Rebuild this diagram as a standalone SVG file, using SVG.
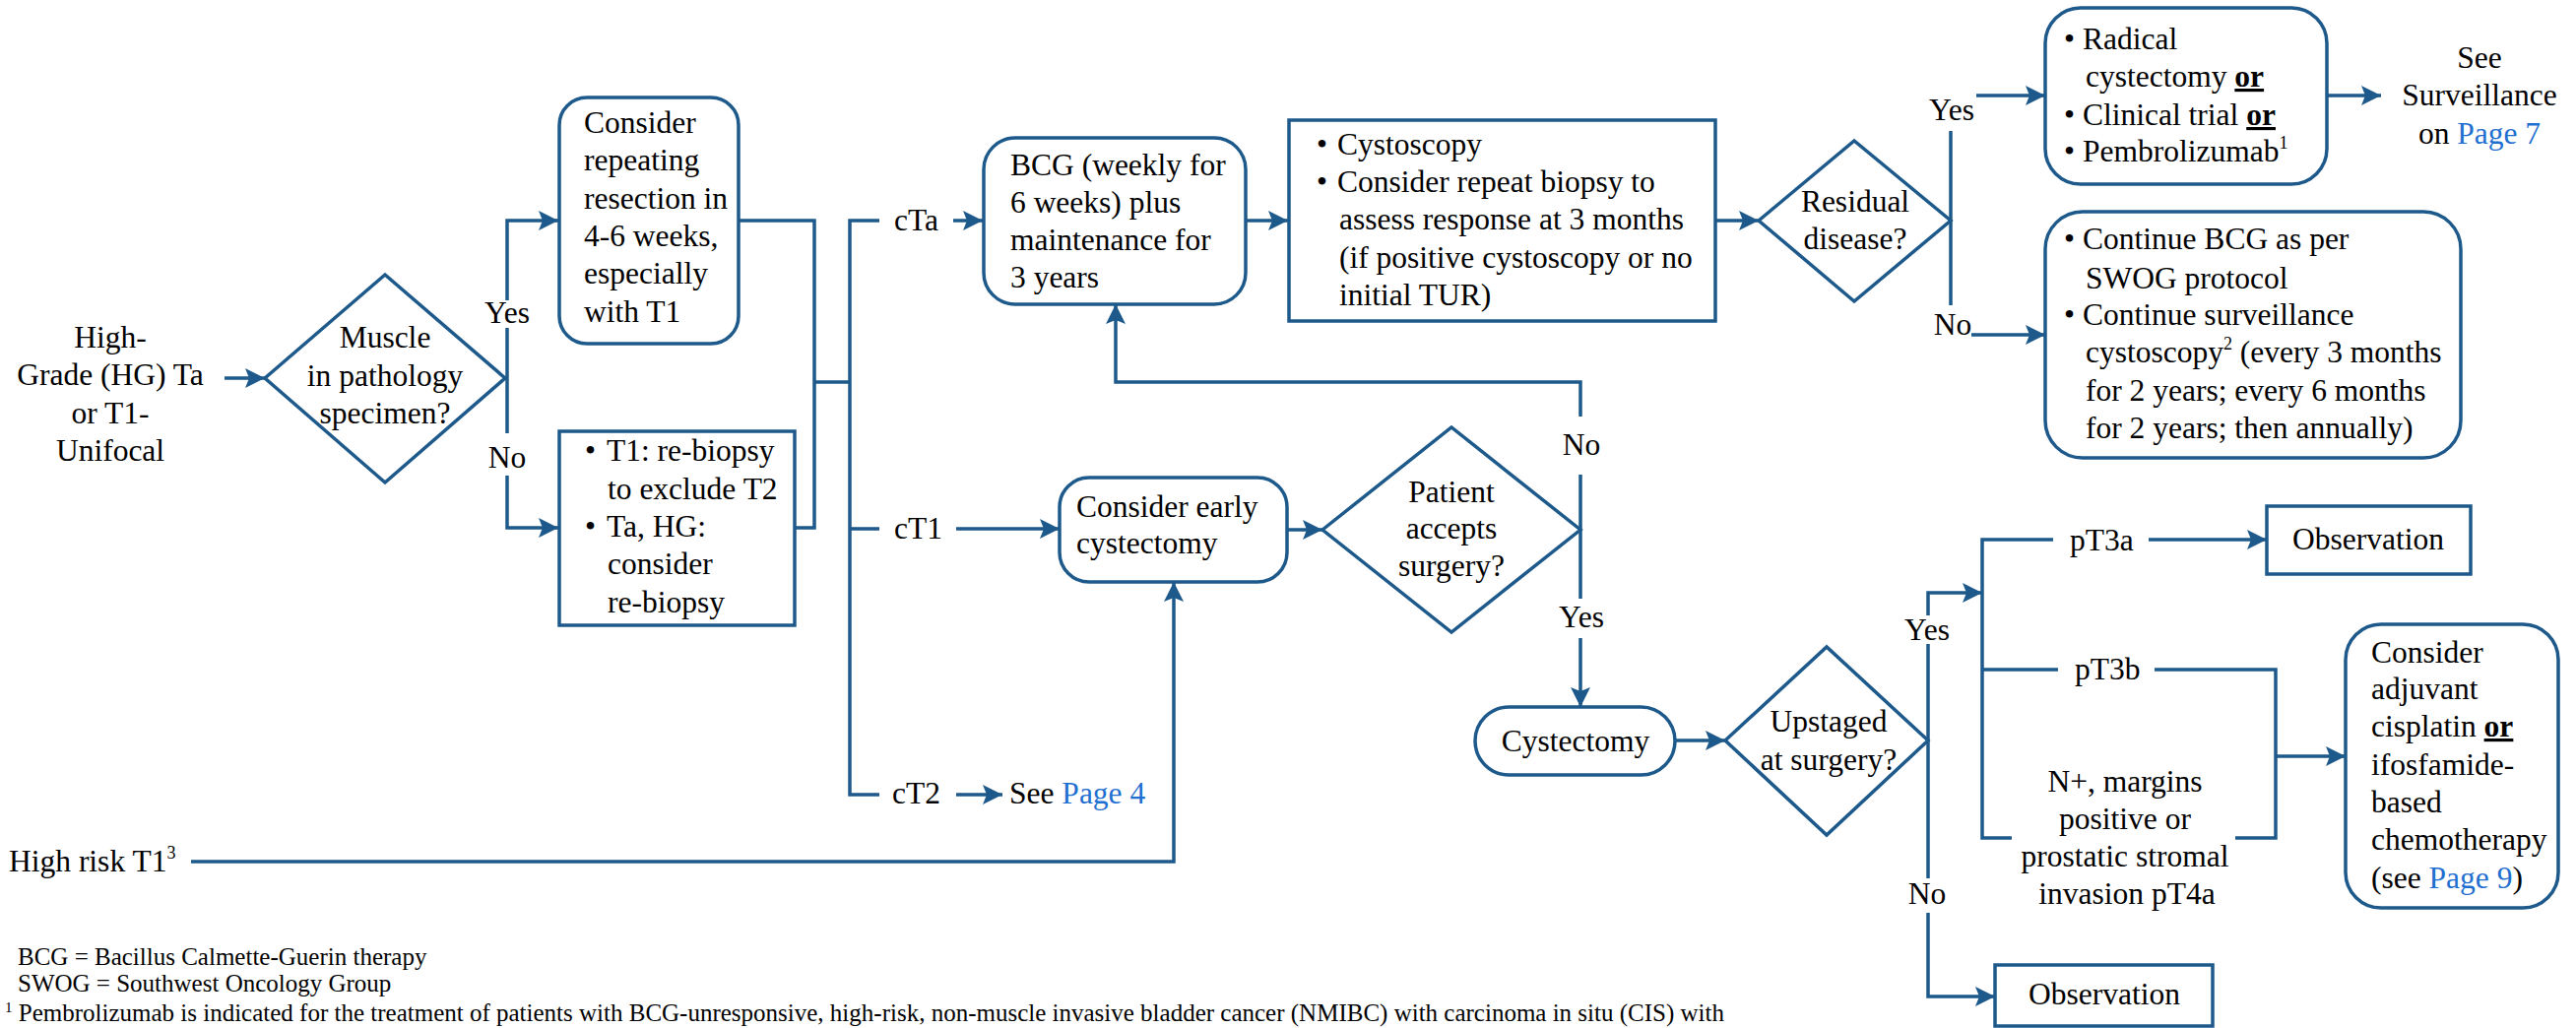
<svg xmlns="http://www.w3.org/2000/svg" width="2616" height="1044" viewBox="0 0 2616 1044">
<defs>
<style>
.n{fill:#fff;stroke:#1d5a8b;stroke-width:3.5}
.c{fill:none;stroke:#1d5a8b;stroke-width:3.5}
.a{marker-end:url(#ah)}
text{font-family:"Liberation Serif","Times New Roman",serif;font-size:31.5px;fill:#000}
.m{text-anchor:middle}
.lnk{fill:#1f6fd0}
.fn{font-size:25px}
.sup{font-size:18px}
.fsup{font-size:15px}
.or{font-weight:bold;text-decoration:underline}
</style>
<marker id="ah" markerUnits="userSpaceOnUse" markerWidth="20" markerHeight="20" viewBox="0 0 20 20" refX="20" refY="10" orient="auto"><path d="M0,0 L20,10 L0,20 L4,10 z" fill="#1d5a8b"/></marker>
</defs>
<rect width="2616" height="1044" fill="#fff"/>

<g id="connectors">
<path class="c a" d="M228,384 H269"/>
<path class="c a" d="M515,305 V224 H567"/>
<path class="c" d="M515,333 V440"/>
<path class="c a" d="M515,483 V536 H567"/>
<path class="c" d="M750,224 H827 V536 H807 M827,388 H863"/>
<path class="c" d="M893,224 H863 V807 H893 M863,537 H893"/>
<path class="c a" d="M968,224 H998"/>
<path class="c a" d="M971,537 H1076"/>
<path class="c a" d="M971,807 H1018"/>
<path class="c a" d="M1265,224 H1308"/>
<path class="c a" d="M1742,224 H1786"/>
<path class="c" d="M1981,133 V310"/>
<path class="c a" d="M2007,97 H2077"/>
<path class="c a" d="M2002,340 H2077"/>
<path class="c a" d="M2363,97 H2418"/>
<path class="c a" d="M1307,538 H1343"/>
<path class="c a" d="M1605,423 V388 H1133 V309"/>
<path class="c" d="M1605,482 V608"/>
<path class="c a" d="M1605,648 V718"/>
<path class="c a" d="M1701,752 H1752"/>
<path class="c a" d="M1958,625 V602 H2013"/>
<path class="c" d="M1958,654 V892"/>
<path class="c a" d="M1958,927 V1012 H2026"/>
<path class="c" d="M2085,548 H2013 V851 H2043 M2013,680 H2090"/>
<path class="c a" d="M2182,548 H2302"/>
<path class="c" d="M2188,680 H2311 V851 H2270"/>
<path class="c a" d="M2311,768 H2382"/>
<path class="c a" d="M194,875 H1192 V591"/>
</g>

<g id="labels">
<text class="m" x="515" y="328">Yes</text>
<text class="m" x="515" y="475">No</text>
<text x="908" y="234">cTa</text>
<text x="908" y="547">cT1</text>
<text x="906" y="816">cT2</text>
<text class="m" x="1982" y="122">Yes</text>
<text class="m" x="1983" y="340">No</text>
<text class="m" x="1606" y="462">No</text>
<text class="m" x="1606" y="637">Yes</text>
<text class="m" x="1957" y="650">Yes</text>
<text class="m" x="1957" y="918">No</text>
<text x="2102" y="559">pT3a</text>
<text x="2107" y="690">pT3b</text>
<g id="n-nplus"><text class="m" x="2158" y="804">N+, margins</text><text class="m" x="2158" y="842">positive or</text><text class="m" x="2158" y="880">prostatic stromal</text><text class="m" x="2160" y="918">invasion pT4a</text></g>
</g>

<g id="n-start">
<text class="m" x="112" y="353">High-</text>
<text class="m" x="112" y="391">Grade (HG) Ta</text>
<text class="m" x="112" y="430">or T1-</text>
<text class="m" x="112" y="468">Unifocal</text>
</g>

<g id="n-muscle">
<polygon class="n" points="269,384 391,279 513,384 391,490"/>
<text class="m" x="391" y="353">Muscle</text>
<text class="m" x="391" y="392">in pathology</text>
<text class="m" x="391" y="430">specimen?</text>
</g>

<g id="n-repeat">
<rect class="n" x="568" y="99" width="182" height="250" rx="28"/>
<text x="593" y="135">Consider</text>
<text x="593" y="173">repeating</text>
<text x="593" y="212">resection in</text>
<text x="593" y="250">4-6 weeks,</text>
<text x="593" y="288">especially</text>
<text x="593" y="327">with T1</text>
</g>

<g id="n-t1">
<rect class="n" x="568" y="438" width="239" height="197"/>
<text x="594" y="468">•</text><text x="616" y="468">T1: re-biopsy</text>
<text x="617" y="507">to exclude T2</text>
<text x="594" y="545">•</text><text x="616" y="545">Ta, HG:</text>
<text x="617" y="583">consider</text>
<text x="617" y="622">re-biopsy</text>
</g>

<g id="n-bcg">
<rect class="n" x="999" y="140" width="266" height="169" rx="32"/>
<text x="1026" y="178">BCG (weekly for</text>
<text x="1026" y="216">6 weeks) plus</text>
<text x="1026" y="254">maintenance for</text>
<text x="1026" y="292">3 years</text>
</g>

<g id="n-cysto">
<rect class="n" x="1309" y="122" width="433" height="204"/>
<text x="1337" y="157">•</text><text x="1358" y="157">Cystoscopy</text>
<text x="1337" y="195">•</text><text x="1358" y="195">Consider repeat biopsy to</text>
<text x="1360" y="233">assess response at 3 months</text>
<text x="1360" y="272">(if positive cystoscopy or no</text>
<text x="1360" y="310">initial TUR)</text>
</g>

<g id="n-residual">
<polygon class="n" points="1786,224 1883,143 1981,224 1883,306"/>
<text class="m" x="1884" y="215">Residual</text>
<text class="m" x="1884" y="253">disease?</text>
</g>

<g id="n-radical">
<rect class="n" x="2077" y="8" width="286" height="179" rx="36"/>
<text x="2096" y="50">•</text><text x="2115" y="50">Radical</text>
<text x="2118" y="88">cystectomy <tspan class="or">or</tspan></text>
<text x="2096" y="127">•</text><text x="2115" y="127">Clinical trial <tspan class="or">or</tspan></text>
<text x="2096" y="164">•</text><text x="2115" y="164">Pembrolizumab<tspan class="sup" dy="-13">1</tspan></text>
</g>

<g id="n-see7">
<text class="m" x="2518" y="69">See</text>
<text class="m" x="2518" y="107">Surveillance</text>
<text class="m" x="2518" y="146">on <tspan class="lnk">Page 7</tspan></text>
</g>

<g id="n-continue">
<rect class="n" x="2077" y="215" width="422" height="250" rx="38"/>
<text x="2096" y="253">•</text><text x="2115" y="253">Continue BCG as per</text>
<text x="2118" y="293">SWOG protocol</text>
<text x="2096" y="330">•</text><text x="2115" y="330">Continue surveillance</text>
<text x="2118" y="368">cystoscopy<tspan class="sup" dy="-13">2</tspan><tspan dy="13"> (every 3 months</tspan></text>
<text x="2118" y="407">for 2 years; every 6 months</text>
<text x="2118" y="445">for 2 years; then annually)</text>
</g>

<g id="n-early">
<rect class="n" x="1076" y="485" width="231" height="106" rx="30"/>
<text x="1093" y="525">Consider early</text>
<text x="1093" y="562">cystectomy</text>
</g>

<g id="n-patient">
<polygon class="n" points="1343,538 1474,434 1605,538 1474,642"/>
<text class="m" x="1474" y="510">Patient</text>
<text class="m" x="1474" y="547">accepts</text>
<text class="m" x="1474" y="585">surgery?</text>
</g>

<g id="n-page4">
<text x="1025" y="816">See <tspan class="lnk">Page 4</tspan></text>
</g>

<g id="n-highrisk">
<text x="9" y="885">High risk T1<tspan class="sup" dy="-13">3</tspan></text>
</g>

<g id="n-cystectomy">
<rect class="n" x="1498" y="718" width="203" height="69" rx="34.5"/>
<text class="m" x="1600" y="763">Cystectomy</text>
</g>

<g id="n-upstaged">
<polygon class="n" points="1752,752 1855,657 1958,752 1855,848"/>
<text class="m" x="1857" y="743">Upstaged</text>
<text class="m" x="1857" y="782">at surgery?</text>
</g>

<g id="n-obs1">
<rect class="n" x="2302" y="514" width="207" height="69"/>
<text class="m" x="2405" y="558">Observation</text>
</g>

<g id="n-final">
<rect class="n" x="2382" y="634" width="216" height="288" rx="36"/>
<text x="2408" y="673">Consider</text>
<text x="2408" y="710">adjuvant</text>
<text x="2408" y="748">cisplatin <tspan class="or">or</tspan></text>
<text x="2408" y="787">ifosfamide-</text>
<text x="2408" y="825">based</text>
<text x="2408" y="863">chemotherapy</text>
<text x="2408" y="902">(see <tspan class="lnk">Page 9</tspan>)</text>
</g>

<g id="n-obs2">
<rect class="n" x="2026" y="980" width="221" height="62"/>
<text class="m" x="2137" y="1020">Observation</text>
</g>

<g id="footnotes">
<text class="fn" x="18" y="980">BCG = Bacillus Calmette-Guerin therapy</text>
<text class="fn" x="18" y="1007">SWOG = Southwest Oncology Group</text>
<text class="fn" x="5" y="1037"><tspan class="fsup" dy="-9">1</tspan><tspan dy="9"> Pembrolizumab is indicated for the treatment of patients with BCG-unresponsive, high-risk, non-muscle invasive bladder cancer (NMIBC) with carcinoma in situ (CIS) with</tspan></text>
</g>
</svg>
